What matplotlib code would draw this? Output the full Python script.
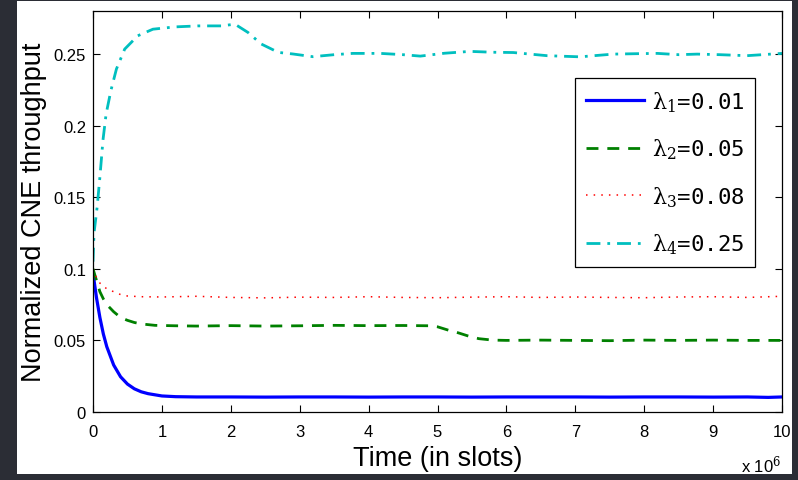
import numpy as np
import matplotlib
matplotlib.use('Agg')
import matplotlib.pyplot as plt
from matplotlib.patches import Rectangle

# time in units of 10^6 slots
t_blue = [0, 0.05, 0.1, 0.15, 0.2, 0.3, 0.4, 0.5, 0.6, 0.7, 0.8, 0.9, 1.0, 1.2,
          1.5, 2, 2.5, 3, 3.5, 4, 4.5, 5, 5.5, 6, 6.5, 7, 7.5, 8, 8.5, 9, 9.5, 9.8, 10]
v_blue = [0.097, 0.080, 0.066, 0.0545, 0.0456, 0.0328, 0.0246, 0.0195, 0.0162, 0.0141,
          0.0128, 0.012, 0.0112, 0.0107, 0.0105, 0.0105, 0.0104, 0.0105, 0.0105, 0.0104,
          0.0105, 0.0105, 0.0104, 0.0105, 0.0105, 0.0105, 0.0104, 0.0105, 0.0105, 0.0104,
          0.0105, 0.0102, 0.0105]

t_green = [0, 0.05, 0.1, 0.15, 0.2, 0.3, 0.4, 0.5, 0.6, 0.7, 0.9, 1.2, 1.5, 2, 2.5, 3,
           3.5, 4, 4.5, 4.9, 5.0, 5.1, 5.2, 5.3, 5.45, 5.6, 5.8, 6, 6.5, 7, 7.5, 8, 8.5,
           9, 9.5, 10]
v_green = [0.100, 0.092, 0.084, 0.079, 0.075, 0.070, 0.066, 0.064, 0.0625, 0.0615,
           0.0605, 0.0602, 0.0600, 0.0603, 0.0600, 0.0602, 0.0605, 0.0603, 0.0604, 0.0602,
           0.0595, 0.058, 0.0565, 0.0553, 0.053, 0.0512, 0.0502, 0.0500, 0.0502, 0.0500,
           0.0498, 0.0502, 0.0500, 0.0502, 0.0500, 0.0500]

t_red = [0, 0.05, 0.1, 0.2, 0.3, 0.4, 0.5, 0.7, 1.0, 1.5, 2, 2.5, 3, 3.5, 4, 4.5, 5,
         5.5, 6, 6.5, 7, 7.5, 8, 8.5, 9, 9.5, 10]
v_red = [0.100, 0.094, 0.090, 0.086, 0.084, 0.082, 0.081, 0.0805, 0.0803, 0.0808,
         0.0800, 0.0797, 0.0802, 0.0800, 0.0805, 0.0800, 0.0798, 0.0802, 0.0805, 0.0800,
         0.0803, 0.0800, 0.0798, 0.0803, 0.0805, 0.0800, 0.0808]

t_cyan = [0, 0.015, 0.06, 0.1, 0.145, 0.19, 0.26, 0.34, 0.46, 0.65, 0.87, 1.19, 1.52,
          1.86, 2.06, 2.25, 2.44, 2.69, 2.9, 3.19, 3.5, 3.77, 4.17, 4.5, 4.75, 5.1, 5.47,
          5.8, 6.1, 6.59, 7.07, 7.55, 7.9, 8.19, 8.5, 8.77, 9.1, 9.49, 10]
v_cyan = [0.105, 0.125, 0.143, 0.164, 0.190, 0.208, 0.2245, 0.2395, 0.2534, 0.2627,
          0.2673, 0.2689, 0.2696, 0.2696, 0.2708, 0.265, 0.257, 0.2511, 0.2500, 0.2481,
          0.2495, 0.2504, 0.2504, 0.2495, 0.2485, 0.2505, 0.2518, 0.2512, 0.2510, 0.2488,
          0.2480, 0.2499, 0.2502, 0.2504, 0.2495, 0.2499, 0.2495, 0.2488, 0.2504]

labels = [r'$\mathrm{\lambda}_1$=0.01', r'$\mathrm{\lambda}_2$=0.05',
          r'$\mathrm{\lambda}_3$=0.08', r'$\mathrm{\lambda}_4$=0.25']

plt.rcParams['font.family'] = 'Liberation Sans'
plt.rcParams['mathtext.fontset'] = 'dejavuserif'

fig = plt.figure(figsize=(7.98, 4.81), dpi=100)
fig.patch.set_facecolor('#2b2d35')
panel = Rectangle((17 / 798, 1 - 475 / 481), (792 - 17) / 798, (475 - 2) / 481,
                  transform=fig.transFigure, facecolor='white', edgecolor='none', zorder=-10)
fig.add_artist(panel)

ax = fig.add_axes([93 / 798, 1 - 413 / 481, (782 - 93) / 798, (413 - 12) / 481])

ax.plot(t_blue, v_blue, color='#0000ff', lw=2.3, label=labels[0])
ax.plot(t_green, v_green, color='#008000', lw=2.0, dashes=(4.3, 3.2), label=labels[1])
ax.plot(t_red, v_red, color='#ff0000', lw=1.1, linestyle=(0, (1, 4)), label=labels[2])
ax.plot(t_cyan, v_cyan, color='#00bfbf', lw=2.0, linestyle=(0, (5, 2.5, 1, 2.5)), label=labels[3])

ax.set_xlim(0, 10)
ax.set_ylim(0, 0.28)
ax.set_xticks(range(0, 11))
ax.set_yticks([0, 0.05, 0.1, 0.15, 0.2, 0.25])
ax.set_yticklabels(['0', '0.05', '0.1', '0.15', '0.2', '0.25'])
ax.tick_params(direction='in', length=5, width=0.8, top=True, right=True,
               labelsize=12, pad=9, colors='black')
ax.tick_params(axis='y', pad=5)
for s in ax.spines.values():
    s.set_linewidth(0.9)

ax.set_xlabel('Time (in slots)', fontsize=19.5, labelpad=4)
ax.set_ylabel('Normalized CNE throughput', fontsize=19.5, labelpad=5)
fig.text(741 / 798, 1 - 465 / 481, r'x 10$^6$', fontsize=12, va='center', ha='left')

leg = ax.legend(loc='upper right', bbox_to_anchor=(0.961, 0.833), fancybox=False,
                edgecolor='black', framealpha=1, handlelength=2.6, labelspacing=1.03,
                borderpad=0.5, handletextpad=0.35, borderaxespad=0,
                prop={'family': 'DejaVu Sans Mono', 'size': 16})
leg.get_frame().set_linewidth(0.9)

fig.savefig('out.png', dpi=100, facecolor=fig.get_facecolor())
